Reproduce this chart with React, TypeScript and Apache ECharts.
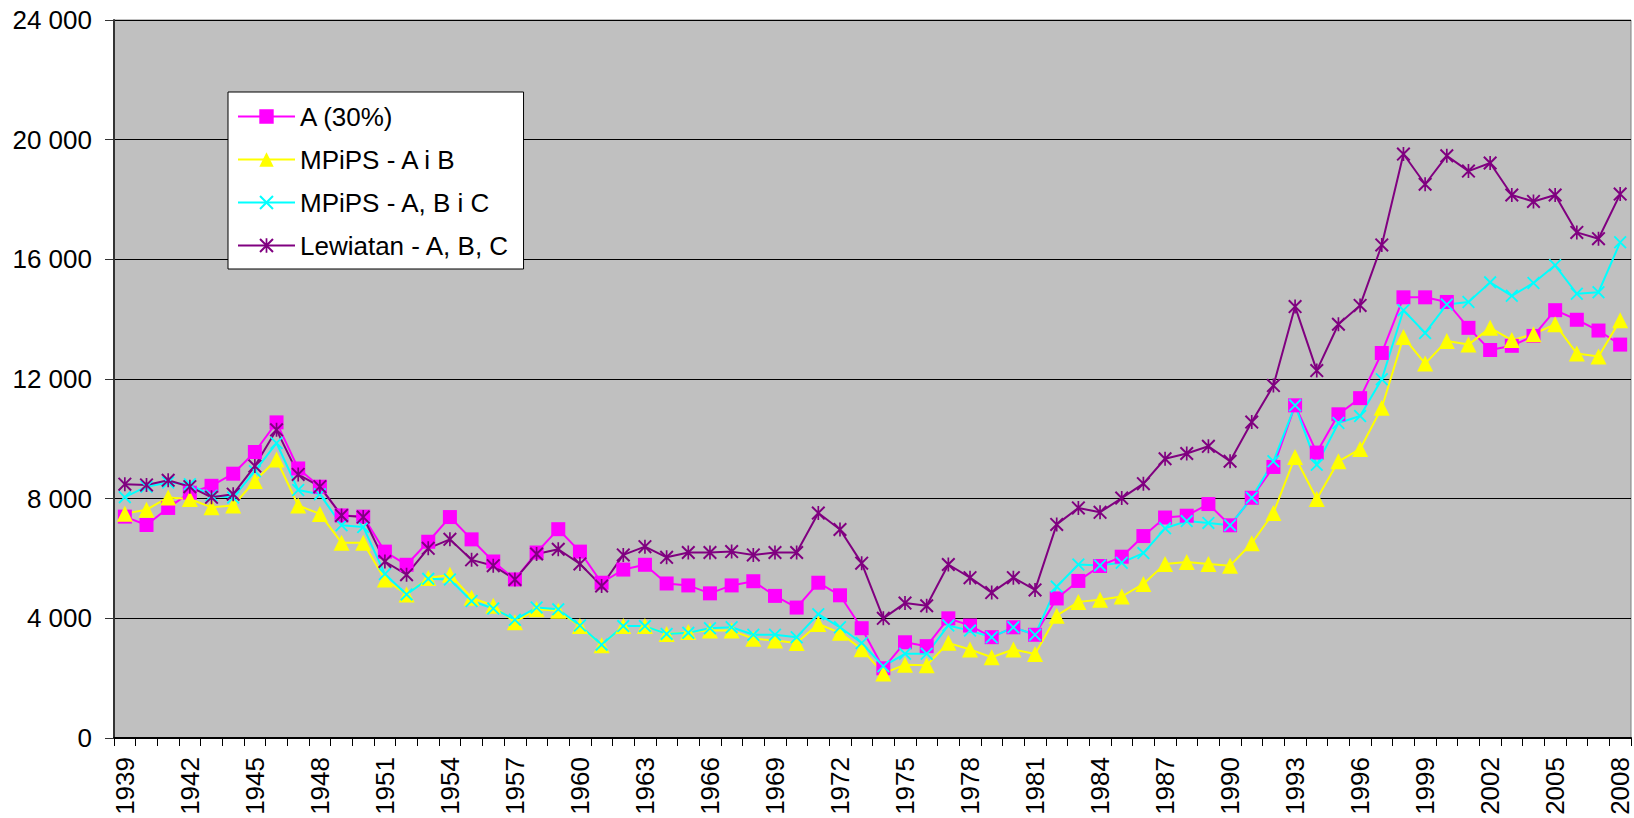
import React, { useEffect, useRef } from "react";
import * as echarts from "echarts";

const years = [
  "1939","1940","1941","1942","1943","1944","1945","1946","1947","1948",
  "1949","1950","1951","1952","1953","1954","1955","1956","1957","1958",
  "1959","1960","1961","1962","1963","1964","1965","1966","1967","1968",
  "1969","1970","1971","1972","1973","1974","1975","1976","1977","1978",
  "1979","1980","1981","1982","1983","1984","1985","1986","1987","1988",
  "1989","1990","1991","1992","1993","1994","1995","1996","1997","1998",
  "1999","2000","2001","2002","2003","2004","2005","2006","2007","2008",
];

const seriesA = [
  7400, 7120, 7690, 8200, 8430, 8835, 9560, 10550, 9010, 8400,
  7440, 7400, 6230, 5790, 6560, 7385, 6640, 5900, 5300, 6200,
  6980, 6230, 5190, 5630, 5790, 5165, 5100, 4835, 5100, 5240,
  4750, 4360, 5190, 4770, 3670, 2330, 3200, 3070, 4000, 3760,
  3370, 3700, 3450, 4665, 5250, 5750, 6060, 6750, 7370, 7430,
  7820, 7110, 8030, 9060, 11120, 9540, 10820, 11360, 12870, 14730,
  14730, 14575, 13710, 12970, 13110, 13440, 14300, 13980, 13620, 13150,
];

const seriesMAB = [
  7500, 7630, 8040, 7990, 7710, 7770, 8590, 9310, 7770, 7490,
  6530, 6530, 5300, 4800, 5350, 5460, 4690, 4420, 3870, 4300,
  4250, 3740, 3100, 3740, 3740, 3480, 3540, 3590, 3590, 3320,
  3260, 3175, 3810, 3515, 2970, 2160, 2450, 2430, 3180, 2960,
  2700, 2960, 2810, 4090, 4550, 4620, 4730, 5150, 5820, 5880,
  5820, 5760, 6510, 7525, 9395, 7990, 9250, 9660, 11040, 13400,
  12515, 13270, 13150, 13710, 13300, 13500, 13830, 12850, 12750, 13960,
];

const seriesMABC = [
  8050, 8400, 8540, 8480, 8100, 8040, 8920, 9860, 8290, 8150,
  7110, 7055, 5480, 4800, 5320, 5300, 4580, 4330, 3955, 4360,
  4300, 3760, 3120, 3740, 3740, 3480, 3515, 3670, 3700, 3450,
  3450, 3370, 4140, 3700, 3175, 2400, 2815, 2815, 3760, 3590,
  3370, 3700, 3450, 5060, 5800, 5770, 5860, 6180, 7010, 7250,
  7190, 7110, 8030, 9250, 11120, 9130, 10530, 10765, 11990, 14300,
  13540, 14490, 14575, 15230, 14780, 15210, 15800, 14850, 14900, 16570,
];

const seriesLew = [
  8484, 8460, 8615, 8400, 8044, 8150, 9090, 10300, 8810, 8400,
  7440, 7385, 5900, 5460, 6340, 6640, 5955, 5760, 5300, 6150,
  6310, 5820, 5080, 6120, 6395, 6040, 6200, 6200, 6230, 6120,
  6200, 6200, 7520, 6970, 5845, 4000, 4510, 4420, 5800, 5360,
  4860, 5360, 4950, 7140, 7690, 7545, 8020, 8500, 9335, 9510,
  9750, 9250, 10560, 11780, 14420, 12280, 13830, 14460, 16480, 19520,
  18510, 19460, 18950, 19220, 18150, 17935, 18150, 16900, 16690, 18180,
];

const seriesNames = ["A (30%)", "MPiPS - A i B", "MPiPS - A, B i C", "Lewiatan - A, B, C"];

const FONT = "'Liberation Sans', Arial, sans-serif";

const crossPath =
  "path://M0,1L1,0L10,9L9,10ZM9,0L10,1L1,10L0,9Z";
const starPath =
  "path://M0,1L1,0L10,9L9,10ZM9,0L10,1L1,10L0,9ZM4.4,0L5.6,0L5.6,10L4.4,10Z";

const fmt = (v: number) => String(v).replace(/\B(?=(\d{3})+(?!\d))/g, " ");

export default function App() {
  const ref = useRef<HTMLDivElement>(null);
  useEffect(() => {
    if (!ref.current) return;
    const chart = echarts.init(ref.current, undefined, { renderer: "svg" });
    const mk = (name: string, data: number[], color: string, symbol: string, size: number) => ({
      name,
      type: "line",
      data,
      symbol,
      symbolSize: size,
      showSymbol: true,
      showAllSymbol: true,
      lineStyle: { color, width: 2 },
      itemStyle: { color, borderWidth: 0 },
      emphasis: { disabled: true },
    });
    chart.setOption({
      animation: false,
      backgroundColor: "#ffffff",
      grid: {
        left: 114,
        right: 3,
        top: 20,
        bottom: 80,
        show: true,
        backgroundColor: "#C0C0C0",
        borderColor: "#808080",
        borderWidth: 1,
      },
      legend: {
        show: true,
        orient: "vertical",
        left: 228,
        top: 92,
        backgroundColor: "#ffffff",
        borderColor: "#000000",
        borderWidth: 1,
        padding: [10, 14, 9, 9],
        itemGap: 14,
        itemWidth: 57,
        itemHeight: 18,
        textStyle: { fontFamily: FONT, fontSize: 26, color: "#000", lineHeight: 29 },
        data: seriesNames,
      },
      xAxis: {
        type: "category",
        data: years,
        boundaryGap: true,
        axisLine: { lineStyle: { color: "#000", width: 2 } },
        axisTick: { show: true, interval: 0, length: 8, lineStyle: { color: "#000" } },
        axisLabel: {
          interval: 2,
          rotate: 90,
          margin: 19,
          fontFamily: FONT,
          fontSize: 26,
          color: "#000",
        },
        splitLine: { show: false },
      },
      yAxis: {
        type: "value",
        min: 0,
        max: 24000,
        interval: 4000,
        axisLine: { show: true, lineStyle: { color: "#333", width: 2 } },
        axisTick: { show: true, length: 9, lineStyle: { color: "#333" } },
        axisLabel: {
          margin: 22,
          fontFamily: FONT,
          fontSize: 26,
          color: "#000",
          formatter: (v: number) => fmt(v),
        },
        splitLine: { show: true, lineStyle: { color: "#000", width: 1 } },
      },
      series: [
        mk(seriesNames[0], seriesA, "#FF00FF", "rect", 14),
        mk(seriesNames[1], seriesMAB, "#FFFF00", "triangle", 16),
        mk(seriesNames[2], seriesMABC, "#00FFFF", crossPath, 13),
        mk(seriesNames[3], seriesLew, "#800080", starPath, 14),
      ],
    });
    return () => chart.dispose();
  }, []);
  return (
    <div
      ref={ref}
      style={{ position: "fixed", left: 0, top: 0, width: 1634, height: 818 }}
    />
  );
}
